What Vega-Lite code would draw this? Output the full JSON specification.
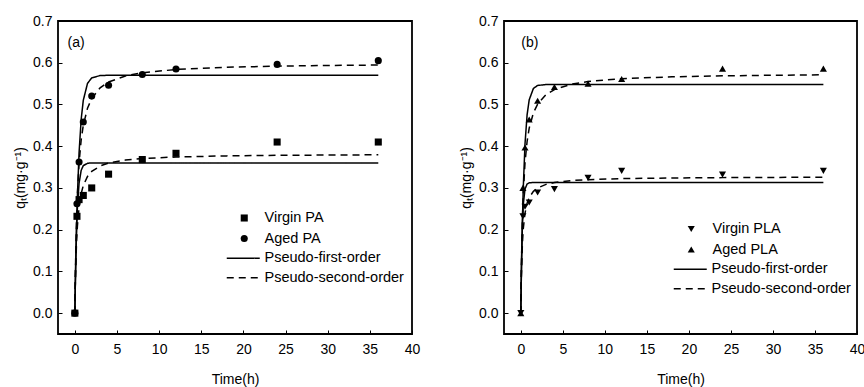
{
  "$schema": "https://vega.github.io/schema/vega-lite/v6.json",
  "padding": {"left": 12, "top": 13, "right": 4, "bottom": 2},
  "spacing": 37,
  "config": {
    "font": "Liberation Sans",
    "view": {"stroke": "black", "strokeWidth": 1.8},
    "axis": {"labelFontSize": 14, "titleFontSize": 14, "titleFontWeight": "normal", "labelColor": "black", "titleColor": "black", "tickColor": "black", "domain": false, "grid": false, "labelOverlap": false, "labelFlush": false},
    "legend": {"labelFontSize": 14.5, "labelColor": "black", "padding": 0}
  },
  "resolve": {"scale": {"x": "independent", "y": "independent", "shape": "independent", "strokeDash": "independent"}},
  "datasets": {
    "pts": [
      {"p": "a", "s": "Virgin PA", "t": 0, "q": 0},
      {"p": "a", "s": "Virgin PA", "t": 0.25, "q": 0.232},
      {"p": "a", "s": "Virgin PA", "t": 0.5, "q": 0.272},
      {"p": "a", "s": "Virgin PA", "t": 1, "q": 0.282},
      {"p": "a", "s": "Virgin PA", "t": 2, "q": 0.3},
      {"p": "a", "s": "Virgin PA", "t": 4, "q": 0.333},
      {"p": "a", "s": "Virgin PA", "t": 8, "q": 0.368},
      {"p": "a", "s": "Virgin PA", "t": 12, "q": 0.383},
      {"p": "a", "s": "Virgin PA", "t": 24, "q": 0.41},
      {"p": "a", "s": "Virgin PA", "t": 36, "q": 0.41},
      {"p": "a", "s": "Aged PA", "t": 0, "q": 0},
      {"p": "a", "s": "Aged PA", "t": 0.25, "q": 0.262},
      {"p": "a", "s": "Aged PA", "t": 0.5, "q": 0.362},
      {"p": "a", "s": "Aged PA", "t": 1, "q": 0.458},
      {"p": "a", "s": "Aged PA", "t": 2, "q": 0.52},
      {"p": "a", "s": "Aged PA", "t": 4, "q": 0.546},
      {"p": "a", "s": "Aged PA", "t": 8, "q": 0.572},
      {"p": "a", "s": "Aged PA", "t": 12, "q": 0.585},
      {"p": "a", "s": "Aged PA", "t": 24, "q": 0.596},
      {"p": "a", "s": "Aged PA", "t": 36, "q": 0.605},
      {"p": "b", "s": "Virgin PLA", "t": 0, "q": 0},
      {"p": "b", "s": "Virgin PLA", "t": 0.25, "q": 0.232},
      {"p": "b", "s": "Virgin PLA", "t": 0.5, "q": 0.255},
      {"p": "b", "s": "Virgin PLA", "t": 1, "q": 0.265},
      {"p": "b", "s": "Virgin PLA", "t": 2, "q": 0.289},
      {"p": "b", "s": "Virgin PLA", "t": 4, "q": 0.297},
      {"p": "b", "s": "Virgin PLA", "t": 8, "q": 0.324},
      {"p": "b", "s": "Virgin PLA", "t": 12, "q": 0.341},
      {"p": "b", "s": "Virgin PLA", "t": 24, "q": 0.332},
      {"p": "b", "s": "Virgin PLA", "t": 36, "q": 0.341},
      {"p": "b", "s": "Aged PLA", "t": 0, "q": 0},
      {"p": "b", "s": "Aged PLA", "t": 0.25, "q": 0.3},
      {"p": "b", "s": "Aged PLA", "t": 0.5, "q": 0.397},
      {"p": "b", "s": "Aged PLA", "t": 1, "q": 0.464},
      {"p": "b", "s": "Aged PLA", "t": 2, "q": 0.509},
      {"p": "b", "s": "Aged PLA", "t": 4, "q": 0.542},
      {"p": "b", "s": "Aged PLA", "t": 8, "q": 0.55},
      {"p": "b", "s": "Aged PLA", "t": 12, "q": 0.561},
      {"p": "b", "s": "Aged PLA", "t": 24, "q": 0.586},
      {"p": "b", "s": "Aged PLA", "t": 36, "q": 0.586}
    ],
    "fit": [
      {"p": "a", "s": "VPA", "m": "Pseudo-first-order", "t": 0, "q": 0},
      {"p": "a", "s": "VPA", "m": "Pseudo-first-order", "t": 0.05, "q": 0.0653},
      {"p": "a", "s": "VPA", "m": "Pseudo-first-order", "t": 0.1, "q": 0.1187},
      {"p": "a", "s": "VPA", "m": "Pseudo-first-order", "t": 0.2, "q": 0.1982},
      {"p": "a", "s": "VPA", "m": "Pseudo-first-order", "t": 0.3, "q": 0.2516},
      {"p": "a", "s": "VPA", "m": "Pseudo-first-order", "t": 0.5, "q": 0.3113},
      {"p": "a", "s": "VPA", "m": "Pseudo-first-order", "t": 0.75, "q": 0.3421},
      {"p": "a", "s": "VPA", "m": "Pseudo-first-order", "t": 1, "q": 0.3534},
      {"p": "a", "s": "VPA", "m": "Pseudo-first-order", "t": 1.5, "q": 0.3591},
      {"p": "a", "s": "VPA", "m": "Pseudo-first-order", "t": 2, "q": 0.3599},
      {"p": "a", "s": "VPA", "m": "Pseudo-first-order", "t": 3, "q": 0.36},
      {"p": "a", "s": "VPA", "m": "Pseudo-first-order", "t": 36, "q": 0.36},
      {"p": "a", "s": "APA", "m": "Pseudo-first-order", "t": 0, "q": 0},
      {"p": "a", "s": "APA", "m": "Pseudo-first-order", "t": 0.05, "q": 0.0606},
      {"p": "a", "s": "APA", "m": "Pseudo-first-order", "t": 0.1, "q": 0.1149},
      {"p": "a", "s": "APA", "m": "Pseudo-first-order", "t": 0.2, "q": 0.2066},
      {"p": "a", "s": "APA", "m": "Pseudo-first-order", "t": 0.3, "q": 0.2798},
      {"p": "a", "s": "APA", "m": "Pseudo-first-order", "t": 0.5, "q": 0.3849},
      {"p": "a", "s": "APA", "m": "Pseudo-first-order", "t": 0.75, "q": 0.4646},
      {"p": "a", "s": "APA", "m": "Pseudo-first-order", "t": 1, "q": 0.5099},
      {"p": "a", "s": "APA", "m": "Pseudo-first-order", "t": 1.5, "q": 0.5505},
      {"p": "a", "s": "APA", "m": "Pseudo-first-order", "t": 2, "q": 0.5637},
      {"p": "a", "s": "APA", "m": "Pseudo-first-order", "t": 3, "q": 0.5693},
      {"p": "a", "s": "APA", "m": "Pseudo-first-order", "t": 4, "q": 0.5699},
      {"p": "a", "s": "APA", "m": "Pseudo-first-order", "t": 36, "q": 0.57},
      {"p": "a", "s": "VPA", "m": "Pseudo-second-order", "t": 0, "q": 0},
      {"p": "a", "s": "VPA", "m": "Pseudo-second-order", "t": 0.05, "q": 0.0637},
      {"p": "a", "s": "VPA", "m": "Pseudo-second-order", "t": 0.1, "q": 0.1091},
      {"p": "a", "s": "VPA", "m": "Pseudo-second-order", "t": 0.2, "q": 0.1698},
      {"p": "a", "s": "VPA", "m": "Pseudo-second-order", "t": 0.3, "q": 0.2084},
      {"p": "a", "s": "VPA", "m": "Pseudo-second-order", "t": 0.5, "q": 0.2547},
      {"p": "a", "s": "VPA", "m": "Pseudo-second-order", "t": 0.75, "q": 0.2865},
      {"p": "a", "s": "VPA", "m": "Pseudo-second-order", "t": 1, "q": 0.3056},
      {"p": "a", "s": "VPA", "m": "Pseudo-second-order", "t": 1.5, "q": 0.3274},
      {"p": "a", "s": "VPA", "m": "Pseudo-second-order", "t": 2, "q": 0.3396},
      {"p": "a", "s": "VPA", "m": "Pseudo-second-order", "t": 3, "q": 0.3526},
      {"p": "a", "s": "VPA", "m": "Pseudo-second-order", "t": 4, "q": 0.3595},
      {"p": "a", "s": "VPA", "m": "Pseudo-second-order", "t": 6, "q": 0.3667},
      {"p": "a", "s": "VPA", "m": "Pseudo-second-order", "t": 8, "q": 0.3704},
      {"p": "a", "s": "VPA", "m": "Pseudo-second-order", "t": 12, "q": 0.3742},
      {"p": "a", "s": "VPA", "m": "Pseudo-second-order", "t": 18, "q": 0.3768},
      {"p": "a", "s": "VPA", "m": "Pseudo-second-order", "t": 24, "q": 0.3781},
      {"p": "a", "s": "VPA", "m": "Pseudo-second-order", "t": 30, "q": 0.3788},
      {"p": "a", "s": "VPA", "m": "Pseudo-second-order", "t": 36, "q": 0.3794},
      {"p": "a", "s": "APA", "m": "Pseudo-second-order", "t": 0, "q": 0},
      {"p": "a", "s": "APA", "m": "Pseudo-second-order", "t": 0.05, "q": 0.0783},
      {"p": "a", "s": "APA", "m": "Pseudo-second-order", "t": 0.1, "q": 0.1385},
      {"p": "a", "s": "APA", "m": "Pseudo-second-order", "t": 0.2, "q": 0.225},
      {"p": "a", "s": "APA", "m": "Pseudo-second-order", "t": 0.3, "q": 0.2842},
      {"p": "a", "s": "APA", "m": "Pseudo-second-order", "t": 0.5, "q": 0.36},
      {"p": "a", "s": "APA", "m": "Pseudo-second-order", "t": 0.75, "q": 0.4154},
      {"p": "a", "s": "APA", "m": "Pseudo-second-order", "t": 1, "q": 0.45},
      {"p": "a", "s": "APA", "m": "Pseudo-second-order", "t": 1.5, "q": 0.4909},
      {"p": "a", "s": "APA", "m": "Pseudo-second-order", "t": 2, "q": 0.5143},
      {"p": "a", "s": "APA", "m": "Pseudo-second-order", "t": 3, "q": 0.54},
      {"p": "a", "s": "APA", "m": "Pseudo-second-order", "t": 4, "q": 0.5538},
      {"p": "a", "s": "APA", "m": "Pseudo-second-order", "t": 6, "q": 0.5684},
      {"p": "a", "s": "APA", "m": "Pseudo-second-order", "t": 8, "q": 0.576},
      {"p": "a", "s": "APA", "m": "Pseudo-second-order", "t": 12, "q": 0.5838},
      {"p": "a", "s": "APA", "m": "Pseudo-second-order", "t": 18, "q": 0.5891},
      {"p": "a", "s": "APA", "m": "Pseudo-second-order", "t": 24, "q": 0.5918},
      {"p": "a", "s": "APA", "m": "Pseudo-second-order", "t": 30, "q": 0.5934},
      {"p": "a", "s": "APA", "m": "Pseudo-second-order", "t": 36, "q": 0.5945},
      {"p": "b", "s": "VPLA", "m": "Pseudo-first-order", "t": 0, "q": 0},
      {"p": "b", "s": "VPLA", "m": "Pseudo-first-order", "t": 0.05, "q": 0.0811},
      {"p": "b", "s": "VPLA", "m": "Pseudo-first-order", "t": 0.1, "q": 0.1412},
      {"p": "b", "s": "VPLA", "m": "Pseudo-first-order", "t": 0.2, "q": 0.2187},
      {"p": "b", "s": "VPLA", "m": "Pseudo-first-order", "t": 0.3, "q": 0.2613},
      {"p": "b", "s": "VPLA", "m": "Pseudo-first-order", "t": 0.5, "q": 0.2974},
      {"p": "b", "s": "VPLA", "m": "Pseudo-first-order", "t": 0.75, "q": 0.3095},
      {"p": "b", "s": "VPLA", "m": "Pseudo-first-order", "t": 1, "q": 0.3122},
      {"p": "b", "s": "VPLA", "m": "Pseudo-first-order", "t": 1.5, "q": 0.313},
      {"p": "b", "s": "VPLA", "m": "Pseudo-first-order", "t": 36, "q": 0.313},
      {"p": "b", "s": "APLA", "m": "Pseudo-first-order", "t": 0, "q": 0},
      {"p": "b", "s": "APLA", "m": "Pseudo-first-order", "t": 0.05, "q": 0.0692},
      {"p": "b", "s": "APLA", "m": "Pseudo-first-order", "t": 0.1, "q": 0.1297},
      {"p": "b", "s": "APLA", "m": "Pseudo-first-order", "t": 0.2, "q": 0.2287},
      {"p": "b", "s": "APLA", "m": "Pseudo-first-order", "t": 0.3, "q": 0.3042},
      {"p": "b", "s": "APLA", "m": "Pseudo-first-order", "t": 0.5, "q": 0.406},
      {"p": "b", "s": "APLA", "m": "Pseudo-first-order", "t": 0.75, "q": 0.4757},
      {"p": "b", "s": "APLA", "m": "Pseudo-first-order", "t": 1, "q": 0.5112},
      {"p": "b", "s": "APLA", "m": "Pseudo-first-order", "t": 1.5, "q": 0.5385},
      {"p": "b", "s": "APLA", "m": "Pseudo-first-order", "t": 2, "q": 0.5455},
      {"p": "b", "s": "APLA", "m": "Pseudo-first-order", "t": 3, "q": 0.5478},
      {"p": "b", "s": "APLA", "m": "Pseudo-first-order", "t": 36, "q": 0.548},
      {"p": "b", "s": "VPLA", "m": "Pseudo-second-order", "t": 0, "q": 0},
      {"p": "b", "s": "VPLA", "m": "Pseudo-second-order", "t": 0.05, "q": 0.0706},
      {"p": "b", "s": "VPLA", "m": "Pseudo-second-order", "t": 0.1, "q": 0.1161},
      {"p": "b", "s": "VPLA", "m": "Pseudo-second-order", "t": 0.2, "q": 0.1714},
      {"p": "b", "s": "VPLA", "m": "Pseudo-second-order", "t": 0.3, "q": 0.2037},
      {"p": "b", "s": "VPLA", "m": "Pseudo-second-order", "t": 0.5, "q": 0.2399},
      {"p": "b", "s": "VPLA", "m": "Pseudo-second-order", "t": 0.75, "q": 0.2634},
      {"p": "b", "s": "VPLA", "m": "Pseudo-second-order", "t": 1, "q": 0.2769},
      {"p": "b", "s": "VPLA", "m": "Pseudo-second-order", "t": 1.5, "q": 0.2918},
      {"p": "b", "s": "VPLA", "m": "Pseudo-second-order", "t": 2, "q": 0.2999},
      {"p": "b", "s": "VPLA", "m": "Pseudo-second-order", "t": 3, "q": 0.3085},
      {"p": "b", "s": "VPLA", "m": "Pseudo-second-order", "t": 4, "q": 0.313},
      {"p": "b", "s": "VPLA", "m": "Pseudo-second-order", "t": 6, "q": 0.3176},
      {"p": "b", "s": "VPLA", "m": "Pseudo-second-order", "t": 8, "q": 0.3199},
      {"p": "b", "s": "VPLA", "m": "Pseudo-second-order", "t": 12, "q": 0.3223},
      {"p": "b", "s": "VPLA", "m": "Pseudo-second-order", "t": 18, "q": 0.3239},
      {"p": "b", "s": "VPLA", "m": "Pseudo-second-order", "t": 24, "q": 0.3247},
      {"p": "b", "s": "VPLA", "m": "Pseudo-second-order", "t": 30, "q": 0.3252},
      {"p": "b", "s": "VPLA", "m": "Pseudo-second-order", "t": 36, "q": 0.3256},
      {"p": "b", "s": "APLA", "m": "Pseudo-second-order", "t": 0, "q": 0},
      {"p": "b", "s": "APLA", "m": "Pseudo-second-order", "t": 0.05, "q": 0.0826},
      {"p": "b", "s": "APLA", "m": "Pseudo-second-order", "t": 0.1, "q": 0.1445},
      {"p": "b", "s": "APLA", "m": "Pseudo-second-order", "t": 0.2, "q": 0.231},
      {"p": "b", "s": "APLA", "m": "Pseudo-second-order", "t": 0.3, "q": 0.2886},
      {"p": "b", "s": "APLA", "m": "Pseudo-second-order", "t": 0.5, "q": 0.3605},
      {"p": "b", "s": "APLA", "m": "Pseudo-second-order", "t": 0.75, "q": 0.4118},
      {"p": "b", "s": "APLA", "m": "Pseudo-second-order", "t": 1, "q": 0.4434},
      {"p": "b", "s": "APLA", "m": "Pseudo-second-order", "t": 1.5, "q": 0.4801},
      {"p": "b", "s": "APLA", "m": "Pseudo-second-order", "t": 2, "q": 0.5009},
      {"p": "b", "s": "APLA", "m": "Pseudo-second-order", "t": 3, "q": 0.5236},
      {"p": "b", "s": "APLA", "m": "Pseudo-second-order", "t": 4, "q": 0.5357},
      {"p": "b", "s": "APLA", "m": "Pseudo-second-order", "t": 6, "q": 0.5484},
      {"p": "b", "s": "APLA", "m": "Pseudo-second-order", "t": 8, "q": 0.555},
      {"p": "b", "s": "APLA", "m": "Pseudo-second-order", "t": 12, "q": 0.5617},
      {"p": "b", "s": "APLA", "m": "Pseudo-second-order", "t": 18, "q": 0.5663},
      {"p": "b", "s": "APLA", "m": "Pseudo-second-order", "t": 24, "q": 0.5686},
      {"p": "b", "s": "APLA", "m": "Pseudo-second-order", "t": 30, "q": 0.57},
      {"p": "b", "s": "APLA", "m": "Pseudo-second-order", "t": 36, "q": 0.571}
    ]
  },
  "hconcat": [
    {
      "width": 354,
      "height": 313,
      "layer": [
        {
          "data": {"name": "fit"},
          "transform": [{"filter": "datum.p == 'a'"}],
          "mark": {"type": "line", "color": "black", "strokeWidth": 1.5},
          "encoding": {
            "x": {"field": "t", "type": "quantitative", "scale": {"domain": [-2, 40], "nice": false, "zero": false},
              "axis": {"title": "Time(h)", "values": [0, 2.5, 5, 7.5, 10, 12.5, 15, 17.5, 20, 22.5, 25, 27.5, 30, 32.5, 35, 37.5, 40], "labelExpr": "datum.value % 5 == 0 ? format(datum.value, 'd') : ''", "tickSize": -4, "labelPadding": 12, "titlePadding": 16}},
            "y": {"field": "q", "type": "quantitative", "scale": {"domain": [-0.05, 0.7], "nice": false, "zero": false},
              "axis": {"title": "qₜ(mg·g⁻¹)", "values": [0, 0.05, 0.1, 0.15, 0.2, 0.25, 0.3, 0.35, 0.4, 0.45, 0.5, 0.55, 0.6, 0.65, 0.7], "labelExpr": "round(datum.value * 100) % 10 == 0 ? format(datum.value, '.1f') : ''", "tickSize": -4, "labelPadding": 10, "titlePadding": 5}},
            "detail": {"field": "s"},
            "strokeDash": {"field": "m", "type": "nominal", "scale": {"domain": ["Pseudo-first-order", "Pseudo-second-order"], "range": [[1, 0], [7, 5]]},
              "legend": {"title": null, "orient": "none", "legendX": 176.25, "legendY": 228.35, "symbolType": "M-2,0H2", "symbolSize": 272.25, "symbolStrokeWidth": 1.5, "symbolStrokeColor": "black", "symbolFillColor": "transparent", "labelOffset": 12.25, "rowPadding": 3.5}}
          }
        },
        {
          "data": {"name": "pts"},
          "transform": [{"filter": "datum.p == 'a'"}],
          "mark": {"type": "point", "filled": true, "color": "black", "size": 50, "opacity": 1},
          "encoding": {
            "x": {"field": "t", "type": "quantitative"},
            "y": {"field": "q", "type": "quantitative"},
            "shape": {"field": "s", "type": "nominal", "scale": {"domain": ["Virgin PA", "Aged PA"], "range": ["square", "circle"]},
              "legend": {"title": null, "orient": "none", "legendX": 179, "legendY": 189.75, "symbolSize": 50, "symbolFillColor": "black", "symbolStrokeColor": "black", "symbolStrokeWidth": 0, "labelOffset": 13, "rowPadding": 5.5}}
          }
        },
        {
          "data": {"values": [{}]},
          "mark": {"type": "text", "text": "(a)", "align": "left", "baseline": "middle", "fontSize": 14, "color": "black"},
          "encoding": {"x": {"datum": -0.87, "type": "quantitative"}, "y": {"datum": 0.647, "type": "quantitative"}}
        }
      ]
    },
    {
      "width": 353,
      "height": 313,
      "layer": [
        {
          "data": {"name": "fit"},
          "transform": [{"filter": "datum.p == 'b'"}],
          "mark": {"type": "line", "color": "black", "strokeWidth": 1.5},
          "encoding": {
            "x": {"field": "t", "type": "quantitative", "scale": {"domain": [-2, 40], "nice": false, "zero": false},
              "axis": {"title": "Time(h)", "values": [0, 2.5, 5, 7.5, 10, 12.5, 15, 17.5, 20, 22.5, 25, 27.5, 30, 32.5, 35, 37.5, 40], "labelExpr": "datum.value % 5 == 0 ? format(datum.value, 'd') : ''", "tickSize": -4, "labelPadding": 12, "titlePadding": 16}},
            "y": {"field": "q", "type": "quantitative", "scale": {"domain": [-0.05, 0.7], "nice": false, "zero": false},
              "axis": {"title": "qₜ(mg·g⁻¹)", "values": [0, 0.05, 0.1, 0.15, 0.2, 0.25, 0.3, 0.35, 0.4, 0.45, 0.5, 0.55, 0.6, 0.65, 0.7], "labelExpr": "round(datum.value * 100) % 10 == 0 ? format(datum.value, '.1f') : ''", "tickSize": -4, "labelPadding": 10, "titlePadding": 5}},
            "detail": {"field": "s"},
            "strokeDash": {"field": "m", "type": "nominal", "scale": {"domain": ["Pseudo-first-order", "Pseudo-second-order"], "range": [[1, 0], [7, 5]]},
              "legend": {"title": null, "orient": "none", "legendX": 177.25, "legendY": 239.35, "symbolType": "M-2,0H2", "symbolSize": 272.25, "symbolStrokeWidth": 1.5, "symbolStrokeColor": "black", "symbolFillColor": "transparent", "labelOffset": 12.25, "rowPadding": 3.5}}
          }
        },
        {
          "data": {"name": "pts"},
          "transform": [{"filter": "datum.p == 'b'"}],
          "mark": {"type": "point", "filled": true, "color": "black", "size": 50, "opacity": 1},
          "encoding": {
            "x": {"field": "t", "type": "quantitative"},
            "y": {"field": "q", "type": "quantitative"},
            "shape": {"field": "s", "type": "nominal", "scale": {"domain": ["Virgin PLA", "Aged PLA"], "range": ["triangle-down", "triangle-up"]},
              "legend": {"title": null, "orient": "none", "legendX": 180, "legendY": 200.75, "symbolSize": 50, "symbolFillColor": "black", "symbolStrokeColor": "black", "symbolStrokeWidth": 0, "labelOffset": 14, "rowPadding": 5.5}}
          }
        },
        {
          "data": {"values": [{}]},
          "mark": {"type": "text", "text": "(b)", "align": "left", "baseline": "middle", "fontSize": 14, "color": "black"},
          "encoding": {"x": {"datum": 0.05, "type": "quantitative"}, "y": {"datum": 0.647, "type": "quantitative"}}
        }
      ]
    }
  ]
}
